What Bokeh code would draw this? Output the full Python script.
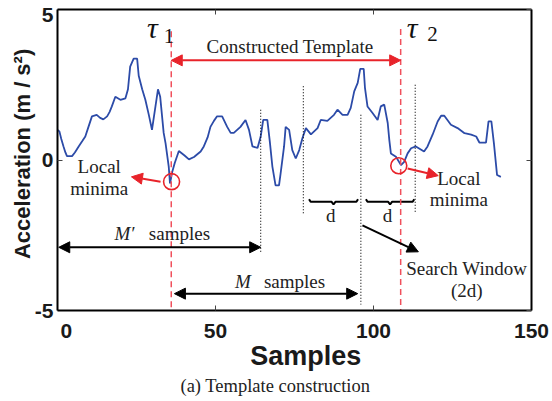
from bokeh.plotting import figure
from bokeh.models import Range1d, LinearAxis, FixedTicker, Arrow, NormalHead, Label, Title
from bokeh.embed import file_html
from bokeh.resources import INLINE

# ---- signal (samples vs acceleration) ----
sample_x = [0.0, 0.6, 1.2, 1.9, 2.5, 3.0, 4.6, 5.5, 6.7, 7.8, 8.8, 9.8, 10.9, 12.4, 13.5, 14.5,
            15.7, 16.5, 17.2, 18.3, 19.9, 21.5, 22.3, 23.0, 24.1, 25.2, 25.7, 26.8, 27.8, 28.9,
            29.9, 31.0, 31.8, 32.5, 33.6, 34.2, 35.2, 35.6, 36.3, 37.1, 38.4, 40.2, 41.6, 43.2,
            45.3, 46.3, 47.5, 48.4, 49.5, 50.5, 52.1, 53.7, 54.8, 55.8, 57.9, 59.5, 60.6, 61.7,
            63.3, 64.3, 65.1, 66.4, 67.2, 68.0, 69.0, 70.1, 70.6, 71.7, 72.2, 73.3, 74.3, 75.4,
            76.5, 77.5, 78.6, 80.2, 82.3, 83.3, 85.4, 87.5, 88.6, 90.2, 91.8, 92.8, 93.9, 95.0,
            95.8, 96.9, 97.3, 98.1, 99.7, 101.3, 102.3, 103.4, 104.5, 105.0, 105.5, 107.1, 108.7,
            109.7, 110.8, 111.9, 113.4, 116.0, 117.1, 118.7, 120.3, 121.4, 122.4, 124.5, 126.6,
            128.8, 130.9, 132.5, 133.5, 135.6, 136.4, 137.3, 138.1, 139.1, 140.3]
accel_y = [1.0, 0.95, 0.7, 0.45, 0.25, 0.13, 0.13, 0.25, 0.45, 0.62, 0.78, 1.1, 1.45, 1.5, 1.4, 1.35,
           1.45, 1.6, 1.78, 2.1, 2.0, 2.05, 2.35, 3.1, 3.37, 3.37, 2.8, 2.35, 2.0, 1.5,
           1.0, 1.78, 2.35, 2.1, 0.9, 0.55, -0.22, -0.78, -0.4, -0.1, 0.3, 0.15, 0.02, 0.1,
           0.28, 0.45, 0.75, 1.1, 1.3, 1.45, 1.45, 1.1, 0.9, 0.9, 1.1, 1.33, 1.0, 0.45,
           0.4, 0.78, 1.33, 1.33, 0.6, -0.22, -0.84, -0.84, -0.45, 0.45, 1.1, 1.0, 0.33, 0.05,
           0.33, 0.72, 1.06, 0.85, 1.06, 1.33, 1.3, 1.5, 1.67, 1.5, 1.5, 1.73, 2.28, 2.56,
           3.03, 3.03, 2.4, 1.78, 1.56, 1.33, 1.78, 1.84, 1.23, 0.67, 0.22, 0.11, -0.17,
           -0.06, 0.22, 0.39, 0.45, 0.28, 0.45, 0.84, 1.28, 1.47, 1.47, 1.17, 1.06,
           0.89, 0.84, 0.78, 0.58, 0.58, 1.28, 1.28, 0.56, -0.5, -0.56]

x_ticks = [0, 50, 100, 150]
y_ticks = [-5, 0, 5]
x_tick_labels = ["0", "50", "100", "150"]
y_tick_labels = ["-5", "0", "5"]

# ---- annotations ----
tau_x = [36.0, 108.6]
tau_top = [4.28, 4.35]
tau_bottom = -5.0
tau_label_x = [30.0, 112.2]
tau_label_y = [4.41, 4.41]
tau_sub = ["1", "2"]
tau_sub_x = [33.6, 117.0]
tau_sub_y = [4.12, 4.2]

minima_x = [36.1, 108.0]
minima_y = [-0.72, -0.19]
minima_arrow_start = [(32.6, -0.72), (110.8, -0.28)]
minima_arrow_end = [(23.4, -0.56), (120.5, -0.52)]
minima_text_x = [13.2, 127.0]
minima_text_y = [(-0.2, -0.94), (-0.6, -1.3)]

window_x = [64.3, 77.8, 96.0, 113.2]
window_top = [1.67, 2.45, 1.5, 2.5]
window_bottom = [-3.1, -1.78, -4.8, -1.78]

brace_start = [79.6, 97.6]
brace_end = [95.1, 112.9]
brace_y = -1.39
d_label_x = [86.5, 104.4]
d_label_y = -1.84

template_span = (36.0, 108.6)
template_y = 3.31
m_prime_span = (0.4, 64.3)
m_prime_y = -2.9
m_span = (37.0, 95.0)
m_y = -4.44
search_start = (96.5, -2.17)
search_end = (114.2, -3.05)

SERIF = "Liberation Serif"
SANS = "Liberation Sans"
RED = "#e8232a"
DASH_RED = "#f0505c"
BLUE = "#2c4ba8"
TXT = "#222222"
NB = "\u00a0"

p = figure(width=552, height=401, output_backend="svg", toolbar_location=None,
           x_range=Range1d(0, 150), y_range=Range1d(-5, 5),
           min_border_left=57, min_border_right=21, min_border_top=9, min_border_bottom=91,
           x_axis_location=None, y_axis_location=None)
p.grid.visible = False
p.outline_line_color = None
p.background_fill_color = "white"
p.border_fill_color = "white"


def style_axis(ax, labels=True):
    ax.axis_line_width = 2
    ax.axis_line_color = "black"
    ax.major_tick_in = 5
    ax.major_tick_out = 0
    ax.minor_tick_in = 5
    ax.minor_tick_out = 0
    ax.major_tick_line_width = 1
    ax.major_tick_line_color = "#444444"
    ax.minor_tick_line_width = 1
    ax.minor_tick_line_color = "#444444"
    if labels:
        ax.major_label_text_font = SANS
        ax.major_label_text_font_style = "bold"
        ax.major_label_text_font_size = "21px"
        ax.major_label_text_color = "#1a1a1a"
        ax.axis_label_text_font = SANS
        ax.axis_label_text_font_style = "bold"
        ax.axis_label_text_color = "#1a1a1a"
    else:
        ax.major_label_text_font_size = "1px"
        ax.major_label_text_color = None
        ax.major_label_standoff = 0


# bottom axis (first label nudged right as in the original)
xb = LinearAxis(ticker=FixedTicker(ticks=x_ticks, minor_ticks=[]), axis_label=NB * 3 + "Samples")
style_axis(xb)
xb.major_label_overrides = {t: (NB * 3 + s if t == 0 else s) for t, s in zip(x_ticks, x_tick_labels)}
xb.major_label_standoff = 8
xb.axis_label_text_font_size = "27px"
xb.axis_label_standoff = -4
p.add_layout(xb, "below")

# left axis: top label sits slightly below the top edge, tick mark kept as a minor tick at 0
y_label_pos = [t if t < 5 else t - 0.17 for t in y_ticks]
yl = LinearAxis(ticker=FixedTicker(ticks=y_label_pos, minor_ticks=[0]),
                axis_label=NB * 2 + "Acceleration (m / s\u00b2)")
style_axis(yl)
yl.major_tick_line_color = None
yl.major_label_overrides = {t: s for t, s in zip(y_label_pos, y_tick_labels)}
yl.major_label_standoff = 4
yl.axis_label_text_font_size = "22px"
yl.axis_label_standoff = -3
p.add_layout(yl, "left")

xt = LinearAxis(ticker=FixedTicker(ticks=x_ticks, minor_ticks=[]))
style_axis(xt, labels=False)
p.add_layout(xt, "above")
yr = LinearAxis(ticker=FixedTicker(ticks=y_ticks, minor_ticks=[]))
style_axis(yr, labels=False)
p.add_layout(yr, "right")

# caption below the axis title
cap = Title(text="(a) Template construction", align="left", offset=123,
            text_font=SERIF, text_font_size="18.5px", text_font_style="normal",
            text_color=TXT, standoff=0)
p.add_layout(cap, "below")

# signal
p.line(sample_x, accel_y, line_color=BLUE, line_width=1.8)

# dotted window lines
p.segment(x0=window_x, y0=window_top, x1=window_x, y1=window_bottom,
          line_color="black", line_width=1.1, line_dash="1 2")

# braces
bx, by = [], []
h = 0.09
for a, b in zip(brace_start, brace_end):
    m = (a + b) / 2
    bx.append([a, a + 0.5, m - 0.6, m, m + 0.6, b - 0.5, b])
    by.append([brace_y + h, brace_y, brace_y, brace_y - h, brace_y, brace_y, brace_y + h])
p.multi_line(bx, by, line_color="black", line_width=2)

# red dashed tau lines
p.segment(x0=tau_x, y0=tau_top, x1=tau_x, y1=[tau_bottom] * len(tau_x),
          line_color=DASH_RED, line_width=1.5, line_dash="6 4")

# local minima circles
p.scatter(minima_x, minima_y, marker="circle", size=16, fill_color=None,
          line_color=RED, line_width=1.6)


def head(color):
    return NormalHead(size=11, fill_color=color, line_color=color, line_width=1)


p.add_layout(Arrow(x_start=template_span[0], y_start=template_y, x_end=template_span[1], y_end=template_y,
                   start=head(RED), end=head(RED), line_color=RED, line_width=2))
for s, e in zip(minima_arrow_start, minima_arrow_end):
    p.add_layout(Arrow(x_start=s[0], y_start=s[1], x_end=e[0], y_end=e[1],
                       end=head(RED), line_color=RED, line_width=2))
p.add_layout(Arrow(x_start=m_prime_span[0], y_start=m_prime_y, x_end=m_prime_span[1], y_end=m_prime_y,
                   start=head("black"), end=head("black"), line_color="black", line_width=2))
p.add_layout(Arrow(x_start=m_span[0], y_start=m_y, x_end=m_span[1], y_end=m_y,
                   start=head("black"), end=head("black"), line_color="black", line_width=2))
p.add_layout(Arrow(x_start=search_start[0], y_start=search_start[1], x_end=search_end[0], y_end=search_end[1],
                   end=head("black"), line_color="black", line_width=2))


def lab(x, y, text, size="19px", style="normal", font=SERIF, color=TXT, align="center"):
    p.add_layout(Label(x=x, y=y, text=text, text_font=font, text_font_size=size,
                       text_font_style=style, text_color=color, text_align=align,
                       text_baseline="middle"))


for x, y, sx, sy, s in zip(tau_label_x, tau_label_y, tau_sub_x, tau_sub_y, tau_sub):
    lab(x, y, "\u03c4", size="30px", style="italic", color="#111111")
    lab(sx, sy, s, size="21px", color="#111111", align="left")

lab(73.6, 3.78, "Constructed Template")
for tx, (y1, y2) in zip(minima_text_x, minima_text_y):
    lab(tx, y1, "Local")
    lab(tx, y2, "minima")
for dx in d_label_x:
    lab(dx, d_label_y, "d")

lab(21.2, -2.44, "M\u2032", style="italic")
lab(38.6, -2.44, "samples")
lab(58.7, -4.05, "M", style="italic")
lab(75.0, -4.05, "samples")
lab(129.5, -3.6, "Search Window")
lab(129.5, -4.35, "(2d)")

open("out.html", "w").write(file_html(p, INLINE))
